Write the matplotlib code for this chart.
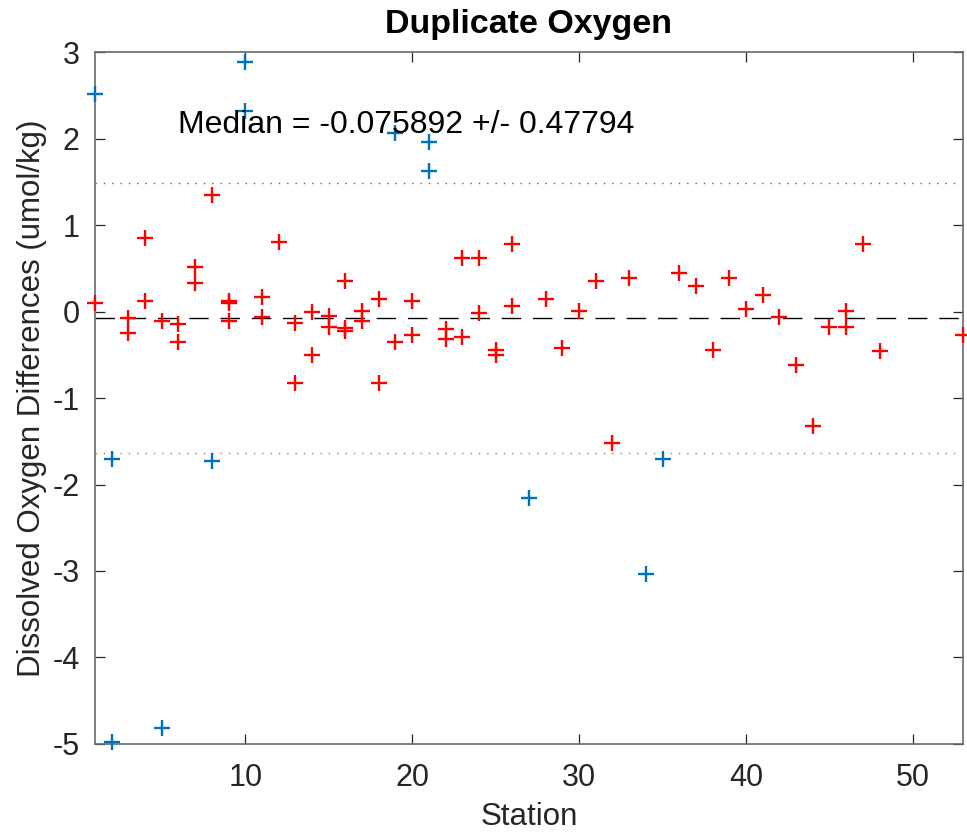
import matplotlib
matplotlib.use("Agg")
import matplotlib.pyplot as plt
import numpy as np

plt.rcParams['font.family'] = ['Liberation Sans', 'DejaVu Sans']
plt.rcParams['axes.unicode_minus'] = False

# duplicates within limits (red)
stn_ok = [1, 3, 3, 4, 4, 5, 6, 6, 7, 7, 8, 9, 9, 9, 11, 11, 12, 13, 13, 14, 14,
          15, 15, 16, 16, 16, 17, 17, 18, 18, 19, 20, 20, 22, 22, 23, 23, 24, 24,
          25, 25, 26, 26, 28, 29, 30, 31, 32, 33, 36, 37, 38, 39, 40, 41, 42, 43,
          44, 45, 46, 46, 47, 48, 53]
diff_ok = [0.10, -0.08, -0.25, 0.85, 0.12, -0.115, -0.15, -0.35, 0.52, 0.33,
           1.35, 0.125, 0.10, -0.107, 0.17, -0.06, 0.80, -0.13, -0.83, 0.00,
           -0.50, -0.05, -0.18, 0.35, -0.19, -0.22, 0.01, -0.11, 0.15, -0.83,
           -0.35, 0.12, -0.27, -0.20, -0.32, 0.62, -0.30, 0.62, -0.02, -0.45,
           -0.50, 0.78, 0.06, 0.14, -0.42, 0.01, 0.35, -1.52, 0.385, 0.45, 0.29,
           -0.44, 0.385, 0.03, 0.19, -0.06, -0.62, -1.32, -0.18, 0.01, -0.18,
           0.78, -0.46, -0.27]

# flagged duplicates (blue)
stn_bad = [1, 2, 2, 5, 8, 10, 10, 19, 21, 21, 27, 34, 35]
diff_bad = [2.52, -1.71, -4.98, -4.82, -1.73, 2.89, 2.32, 2.06, 1.96, 1.63,
            -2.16, -3.03, -1.70]

median = -0.075892
spread = 0.47794
upper = 1.489
lower = -1.641

fig = plt.figure(figsize=(9.67, 8.38), dpi=100)
ax = fig.add_axes([0.0982, 0.1122, 0.8977, 0.8257])

ax.plot(stn_bad, diff_bad, '+', color='#0072BD', ms=11, mew=1.7, clip_on=False, zorder=3)
ax.plot(stn_ok, diff_ok, '+', color='#FF0000', ms=11, mew=1.7, clip_on=False, zorder=4)

ax.axhline(median, color='k', lw=1, dashes=(14, 8.5), zorder=2)
ax.axhline(upper, color='#E03030', lw=1, dashes=(1, 5), zorder=1)
ax.axhline(lower, color='#FF5050', lw=1, dashes=(1, 5), zorder=1)

ax.text(6, 2.065, 'Median = %g +/- %g' % (median, spread), fontsize=23,
        ha='left', va='baseline', color='k')

ax.set_xlim(1, 53)
ax.set_ylim(-5, 3)
ax.set_xticks([10, 20, 30, 40, 50])
ax.set_yticks(np.arange(-5, 4, 1))

ax.tick_params(direction='in', length=7, width=0.9, colors='#262626',
               labelsize=22, top=True, right=True)
ax.tick_params(axis='x', pad=14)
ax.tick_params(axis='y', pad=11)
for s in ax.spines.values():
    s.set_color('#6a6a6a')
    s.set_linewidth(1.2)

ax.set_xlabel('Station', fontsize=22.5, color='#262626', labelpad=6)
ax.set_ylabel('Dissolved Oxygen Differences (umol/kg)', fontsize=22.5,
              color='#262626', labelpad=4)
ax.set_title('Duplicate Oxygen', fontsize=24.5, fontweight='bold', pad=14)

fig.savefig('out.png', dpi=100)
